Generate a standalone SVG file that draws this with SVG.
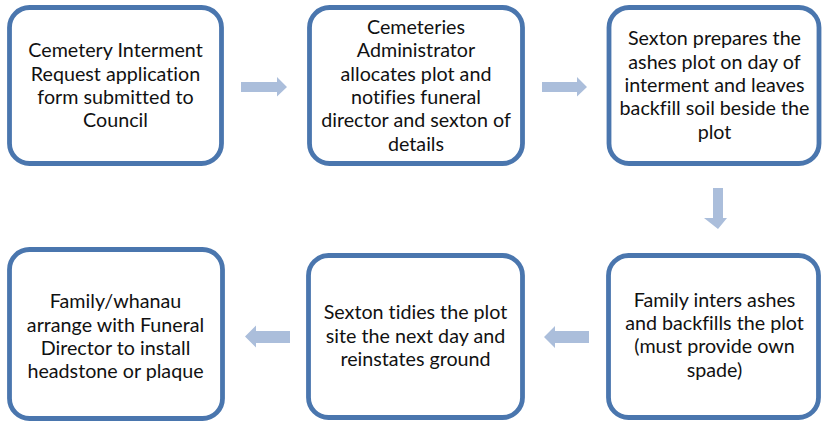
<svg xmlns="http://www.w3.org/2000/svg" width="822" height="423" viewBox="0 0 822 423">
<style>
.box{fill:#ffffff;stroke:#4a76ae;stroke-width:4.8}
.t{font-family:Lato,"Open Sans","Liberation Sans",sans-serif;font-size:19.7px;fill:#111111;text-anchor:middle;font-variant-ligatures:none}
.arr{fill:#abbedb}
</style>
<rect width="822" height="423" fill="#ffffff"/>
<g id="connectors">
<polygon class="arr" points="241,82 277,82 277,77 287,87 277,96.5 277,92 241,92"/>
<polygon class="arr" points="542,82 577,82 577,77 587,87 577,96.5 577,92 542,92"/>
<polygon class="arr" points="713,188 723,188 723,218 727,218 718,229 704,218 713,218"/>
<polygon class="arr" points="589,331 555,331 555,326 544,337 555,348 555,343 589,343"/>
<polygon class="arr" points="290,331 256,331 256,325.5 245,336.5 256,347.5 256,343 290,343"/>
</g>
<g id="n1">
<rect class="box" x="9.5" y="7.5" width="212" height="156" rx="20"/>
<text class="t" x="115.5" y="57.3">Cemetery Interment</text>
<text class="t" x="115.5" y="80.6">Request application</text>
<text class="t" x="115.5" y="103.9">form submitted to</text>
<text class="t" x="115.5" y="127.2">Council</text>
</g>
<g id="n2">
<rect class="box" x="309.5" y="7.5" width="213" height="156" rx="20"/>
<text class="t" x="416" y="34">Cemeteries</text>
<text class="t" x="416" y="57.3">Administrator</text>
<text class="t" x="416" y="80.6">allocates plot and</text>
<text class="t" x="416" y="103.9">notifies funeral</text>
<text class="t" x="416" y="127.2">director and sexton of</text>
<text class="t" x="416" y="150.5">details</text>
</g>
<g id="n3">
<rect class="box" x="609" y="7.5" width="210" height="156" rx="20"/>
<text class="t" x="714.5" y="45.3">Sexton prepares the</text>
<text class="t" x="714.5" y="68.6">ashes plot on day of</text>
<text class="t" x="714.5" y="91.9">interment and leaves</text>
<text class="t" x="714.5" y="115.2">backfill soil beside the</text>
<text class="t" x="714.5" y="138.5">plot</text>
</g>
<g id="n4">
<rect class="box" x="608.5" y="255.5" width="210" height="162" rx="20"/>
<text class="t" x="714.5" y="306.7">Family inters ashes</text>
<text class="t" x="714.5" y="330">and backfills the plot</text>
<text class="t" x="714.5" y="353.3">(must provide own</text>
<text class="t" x="714.5" y="376.6">spade)</text>
</g>
<g id="n5">
<rect class="box" x="308.5" y="255.5" width="214" height="162" rx="20"/>
<text class="t" x="415.5" y="319.3">Sexton tidies the plot</text>
<text class="t" x="415.5" y="342.6">site the next day and</text>
<text class="t" x="415.5" y="365.9">reinstates ground</text>
</g>
<g id="n6">
<rect class="box" x="9.5" y="249.5" width="213" height="169" rx="20"/>
<text class="t" x="115.5" y="308.3">Family/whanau</text>
<text class="t" x="115.5" y="331.6">arrange with Funeral</text>
<text class="t" x="115.5" y="354.9">Director to install</text>
<text class="t" x="115.5" y="378.2">headstone or plaque</text>
</g>
</svg>
